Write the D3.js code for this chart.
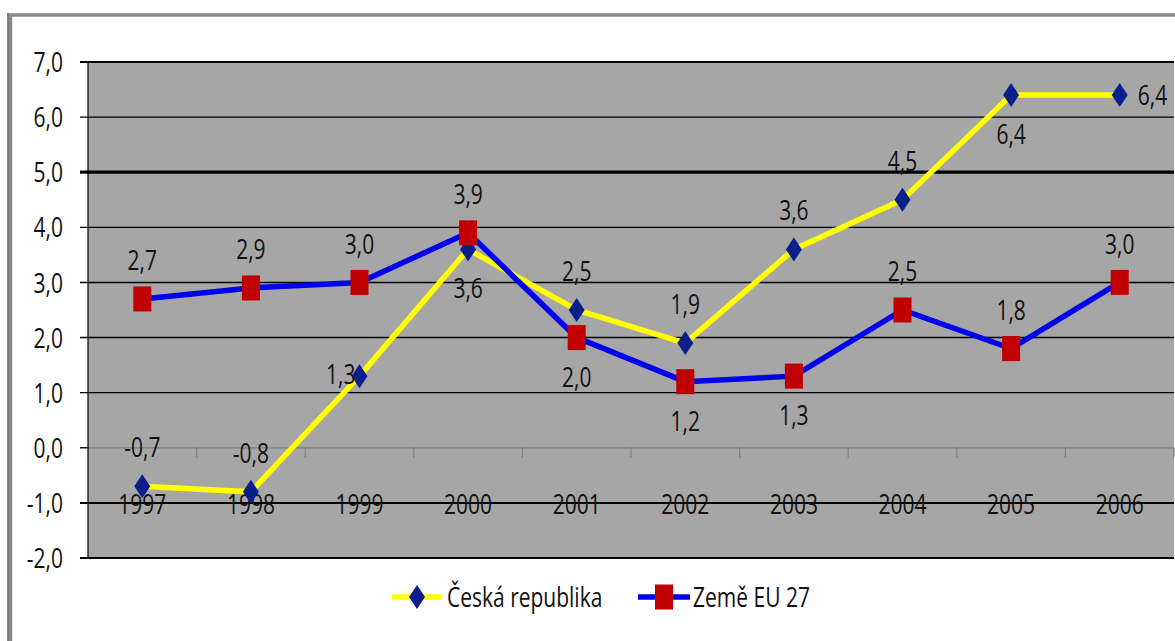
<!DOCTYPE html>
<html>
<head>
<meta charset="utf-8">
<script src="https://cdn.jsdelivr.net/npm/d3@7"></script>
<style>
  body { margin: 0; background: #fff; }
  svg { display: block; }
  text { font-family: "Open Sans", sans-serif; fill: #111; }
</style>
</head>
<body>
<svg id="chart" width="1175" height="641"></svg>
<script>
// chart values
var years = ['1997', '1998', '1999', '2000', '2001', '2002', '2003', '2004', '2005', '2006'];
var cz_values = [-0.7, -0.8, 1.3, 3.6, 2.5, 1.9, 3.6, 4.5, 6.4, 6.4];
var eu_values = [2.7, 2.9, 3.0, 3.9, 2.0, 1.2, 1.3, 2.5, 1.8, 3.0];
var cz_label_pos = ['above', 'above', 'left', 'below', 'above', 'above', 'above', 'above', 'below', 'right'];
var eu_label_pos = ['above', 'above', 'above', 'above', 'below', 'below', 'below', 'above', 'above', 'above'];
var y_ticks = [-2, -1, 0, 1, 2, 3, 4, 5, 6, 7];
var series_names = ['Česká republika', 'Země EU 27'];

var svg = d3.select('#chart');
var sx = 0.75; // text looks squeezed horizontally
var fmt = function(v) { return d3.format('.1f')(v).replace('.', ',').replace('−', '-'); };

var plot = { left: 88, top: 62, right: 1174, bottom: 558 };

var x = d3.scaleBand().domain(years).range([plot.left, plot.right]);
var y = d3.scaleLinear().domain([-2, 7]).range([plot.bottom, plot.top]);
var cx = function(d, i) { return x(years[i]) + x.bandwidth() / 2; };

function label(g, tx, ty, str, anchor, size) {
    return g.append('text')
        .attr('transform', 'translate(' + tx + ',' + ty + ') scale(' + sx + ',1)')
        .attr('text-anchor', anchor || 'middle')
        .attr('dy', '0.36em')
        .style('font-size', (size || 28) + 'px')
        .text(str);
}

// outer frame
svg.append('rect')
    .attr('x', 10.5).attr('y', 15)
    .attr('width', 1200).attr('height', 700)
    .attr('fill', 'none')
    .attr('stroke', '#8a8a8a')
    .attr('stroke-width', 3.5);
svg.append('line')
    .attr('x1', 8).attr('x2', 8).attr('y1', 13).attr('y2', 641)
    .attr('stroke', '#333').attr('stroke-width', 1.2);

// plot area
svg.append('rect')
    .attr('x', plot.left).attr('y', plot.top)
    .attr('width', plot.right - plot.left).attr('height', plot.bottom - plot.top)
    .attr('fill', '#a6a6a6');

// gridlines
var grid = svg.append('g');
y_ticks.forEach(function(t) {
    if (t === 0) return;
    grid.append('line')
        .attr('x1', plot.left - 8).attr('x2', plot.right)
        .attr('y1', y(t)).attr('y2', y(t))
        .attr('stroke', '#000')
        .attr('stroke-width', t === 5 ? 3.2 : (t === -1 || t === -2 || t === 7 ? 2 : 1.4));
});

// zero line (category axis) with its ticks
grid.append('line')
    .attr('x1', plot.left).attr('x2', plot.right)
    .attr('y1', y(0)).attr('y2', y(0))
    .attr('stroke', '#7f7f7f').attr('stroke-width', 1.2);
grid.append('line')
    .attr('x1', plot.left - 8).attr('x2', plot.left)
    .attr('y1', y(0)).attr('y2', y(0))
    .attr('stroke', '#000').attr('stroke-width', 1.4);
years.forEach(function(yr) {
    var bx = x(yr) + x.bandwidth();
    grid.append('line')
        .attr('x1', bx).attr('x2', bx)
        .attr('y1', y(0)).attr('y2', y(0) + 10)
        .attr('stroke', '#7f7f7f').attr('stroke-width', 1.2);
});

// value axis line
grid.append('line')
    .attr('x1', plot.left).attr('x2', plot.left)
    .attr('y1', plot.top).attr('y2', plot.bottom)
    .attr('stroke', '#000').attr('stroke-width', 1.2);

// y labels
var ylab = svg.append('g');
y_ticks.forEach(function(t) {
    label(ylab, 63, y(t), fmt(t), 'end');
});

// x labels (sit on the -1 line as in the original)
var xlab = svg.append('g');
years.forEach(function(yr) {
    label(xlab, x(yr) + x.bandwidth() / 2, y(-1) + 1, yr);
});

var line = d3.line()
    .x(cx)
    .y(function(d) { return y(d); });

function diamond(g, px, py) {
    g.append('path')
        .attr('d', 'M' + px + ',' + (py - 12) + 'L' + (px + 8) + ',' + py +
                   'L' + px + ',' + (py + 12) + 'L' + (px - 8) + ',' + py + 'Z')
        .attr('fill', '#0b1f8c');
}
function square(g, px, py) {
    g.append('rect')
        .attr('x', px - 9).attr('y', py - 12.5)
        .attr('width', 18).attr('height', 25)
        .attr('fill', '#c00000');
}

function placeLabel(g, d, i, pos) {
    var px = cx(d, i), py = y(d);
    if (pos === 'above') label(g, px, py - 39, fmt(d));
    else if (pos === 'below') label(g, px, py + 39, fmt(d));
    else if (pos === 'left') label(g, px - 4, py - 2, fmt(d), 'end');
    else label(g, px + 18, py, fmt(d), 'start');
}

// Česká republika
var czg = svg.append('g');
czg.append('path')
    .datum(cz_values)
    .attr('d', line)
    .attr('fill', 'none')
    .attr('stroke', '#ffff00')
    .attr('stroke-width', 5.5);
cz_values.forEach(function(d, i) { diamond(czg, cx(d, i), y(d)); });

// Země EU 27
var eug = svg.append('g');
eug.append('path')
    .datum(eu_values)
    .attr('d', line)
    .attr('fill', 'none')
    .attr('stroke', '#0000ee')
    .attr('stroke-width', 5.5);
eu_values.forEach(function(d, i) { square(eug, cx(d, i), y(d)); });

// data labels
var dl = svg.append('g');
cz_values.forEach(function(d, i) { placeLabel(dl, d, i, cz_label_pos[i]); });
eu_values.forEach(function(d, i) { placeLabel(dl, d, i, eu_label_pos[i]); });

// legend
var leg = svg.append('g');
var ly = 597;
leg.append('line').attr('x1', 392).attr('x2', 442).attr('y1', ly).attr('y2', ly)
    .attr('stroke', '#ffff00').attr('stroke-width', 5.5);
diamond(leg, 417, ly);
label(leg, 447, ly, series_names[0], 'start');
leg.append('line').attr('x1', 638).attr('x2', 690).attr('y1', ly).attr('y2', ly)
    .attr('stroke', '#0000ee').attr('stroke-width', 5.5);
square(leg, 664, ly);
label(leg, 693, ly, series_names[1], 'start');
</script>
</body>
</html>
